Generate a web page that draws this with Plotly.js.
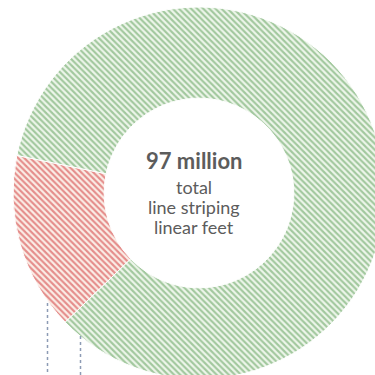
<!DOCTYPE html>
<html>
<head>
<meta charset="utf-8">
<script src="https://cdn.plot.ly/plotly-3.0.1.min.js"></script>
<style>
html,body{margin:0;padding:0;overflow:hidden;background:#fff;width:375px;height:375px;}
#chart{width:390px;height:390px;}
</style>
</head>
<body>
<div id="chart"></div>
<script>
// Data
const categories = ["Other", "Line striping share"];
const values = [15, 82];
const stripeColors = ["#e58d8b", "#a2c89e"];
const backColors = ["#fbefe8", "#eef6eb"];
const centerLines = ["97 million", "total", "line striping", "linear feet"];

const trace = {
  type: "pie",
  labels: categories,
  values: values,
  sort: false,
  direction: "counterclockwise",
  rotation: -134,
  hole: 0.51,
  textinfo: "none",
  hoverinfo: "none",
  showlegend: false,
  marker: {
    colors: stripeColors,
    line: {color: "#ffffff", width: 1},
    pattern: {
      shape: "\\",
      fgcolor: stripeColors,
      bgcolor: backColors,
      size: 4.3,
      solidity: 0.5
    }
  }
};

// helper: pixel -> paper
const L = 13, T = 7, S = 372;
const px = x => (x - L) / S;
const py = y => 1 - (y - T) / S;

const textColor = "#5c5c5c";
const fontFam = "Lato, 'Open Sans', sans-serif";
const linePos = [160, 187, 207, 227];
const annotations = centerLines.map((t, i) => ({
  text: i === 0 ? "<b>" + t + "</b>" : t,
  x: px(194), y: py(linePos[i]), xref: "paper", yref: "paper",
  xanchor: "center", yanchor: "middle", showarrow: false,
  font: {family: fontFam, size: i === 0 ? 22 : 18, color: textColor}
}));

const shapes = [
  {type: "line", xref: "paper", yref: "paper", x0: px(47.5), x1: px(47.5), y0: py(303), y1: py(395),
   line: {color: "#8d9bb5", width: 1.5, dash: "dot"}},
  {type: "line", xref: "paper", yref: "paper", x0: px(80.5), x1: px(80.5), y0: py(336), y1: py(395),
   line: {color: "#8d9bb5", width: 1.5, dash: "dot"}}
];

const layout = {
  width: 390, height: 390,
  margin: {l: L, t: T, r: 390 - L - S, b: 390 - T - S, pad: 0},
  paper_bgcolor: "#ffffff",
  plot_bgcolor: "#ffffff",
  annotations: annotations,
  shapes: shapes
};

Plotly.newPlot("chart", [trace], layout, {displayModeBar: false, staticPlot: true});
</script>
</body>
</html>
